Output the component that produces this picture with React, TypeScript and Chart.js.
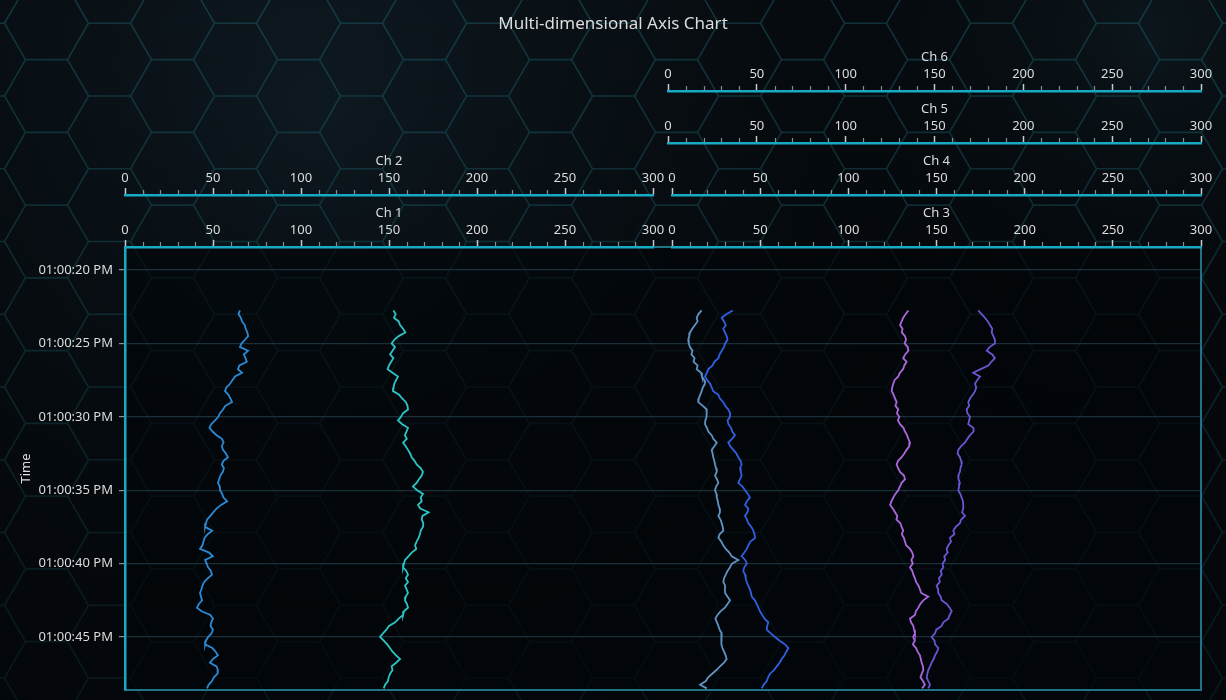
import React, { useEffect, useRef } from 'react';
import { Chart, registerables } from 'chart.js';

Chart.register(...registerables);

// ---------- data ----------
const TITLE = 'Multi-dimensional Axis Chart';
const Y_TITLE = 'Time';
const TIME_START = 22.75; // seconds after 01:00:00 PM
const TIME_STEP = 0.25;
const Y_MIN = 18.43;
const Y_MAX = 48.61;
const Y_TICKS = [20, 25, 30, 35, 40, 45];
const CHANNELS = ['Ch 1', 'Ch 2', 'Ch 3', 'Ch 4', 'Ch 5', 'Ch 6'];
const X_MIN = 0;
const X_MAX = 300;
const X_MAJOR = 50;
const X_MINOR = 10;

const S1 = [
  65.3, 64.5, 65.8, 66.5, 68.0, 68.6, 69.5, 70.0, 68.2, 66.2,
  65.3, 69.9, 67.5, 68.5, 69.2, 65.0, 64.2, 66.5, 62.5, 61.0,
  59.7, 57.6, 56.8, 58.8, 59.9, 60.8, 57.0, 55.7, 54.0, 53.0,
  51.1, 49.0, 48.0, 49.8, 52.0, 55.1, 56.0, 55.0, 55.7, 57.3,
  58.5, 56.0, 55.0, 56.2, 55.6, 54.2, 53.5, 52.8, 53.9, 54.0,
  55.2, 56.0, 58.0, 54.6, 52.0, 50.2, 48.5, 46.6, 46.0, 45.5,
  49.5, 47.0, 45.2, 44.6, 44.0, 42.6, 47.8, 49.9, 45.5, 46.4,
  47.2, 48.8, 49.4, 47.0, 45.0, 44.0, 43.4, 42.6, 43.2, 43.8,
  42.0, 40.9, 43.5, 48.5, 50.0, 49.0, 48.6, 50.0, 49.2, 47.2,
  46.0, 45.5, 49.6, 51.5, 52.8, 50.0, 48.3, 52.0, 52.8, 52.6,
  50.5, 49.4, 47.5, 46.6,
];
const S2 = [
  152.5, 153.8, 152.8, 155.5, 156.3, 158.0, 159.3, 155.5, 153.0, 151.5,
  153.4, 152.0, 150.6, 152.5, 151.2, 150.0, 149.2, 152.0, 155.1, 154.0,
  153.0, 152.6, 152.3, 155.8, 157.5, 159.6, 160.5, 160.8, 158.0, 156.8,
  155.1, 157.5, 160.8, 160.0, 159.0, 160.1, 158.0, 159.5, 160.8, 162.0,
  162.9, 164.5, 165.7, 168.0, 169.3, 168.6, 167.0, 165.7, 163.6, 166.0,
  169.3, 168.0, 168.6, 166.5, 167.8, 172.5, 169.0, 168.6, 169.5, 169.3,
  168.0, 167.6, 166.8, 165.7, 164.8, 165.5, 162.9, 161.0, 159.1, 158.5,
  158.0, 159.8, 160.8, 159.5, 160.8, 159.1, 160.0, 160.8, 159.5, 159.1,
  160.2, 160.8, 158.5, 158.0, 155.5, 153.5, 150.0, 148.5, 146.6, 144.9,
  147.0, 149.0, 150.5, 152.0, 154.0, 156.3, 154.0, 151.5, 152.0, 150.6,
  149.8, 149.4, 147.8, 147.0,
];
const S3 = [
  16.8, 15.0, 14.0, 14.5, 13.0, 11.5, 10.2, 9.8, 9.2, 9.5,
  10.2, 11.6, 11.0, 12.8, 12.2, 14.5, 14.0, 16.5, 17.0, 18.3,
  18.7, 17.5, 16.8, 16.0, 15.2, 14.9, 17.5, 19.7, 19.5, 19.7,
  18.9, 18.7, 19.8, 20.6, 22.5, 23.4, 25.4, 24.0, 22.5, 23.0,
  23.4, 24.0, 24.4, 25.0, 25.4, 24.4, 25.5, 26.3, 25.0, 24.4,
  25.2, 25.4, 26.0, 26.3, 27.0, 27.2, 26.3, 27.5, 28.2, 28.8,
  29.1, 27.0, 26.3, 28.0, 29.0, 30.5, 32.5, 33.9, 37.6, 34.0,
  32.9, 31.5, 30.5, 29.5, 29.1, 30.1, 30.0, 30.1, 31.5, 32.9,
  31.5, 30.0, 27.5, 25.8, 24.6, 25.5, 26.3, 27.0, 28.2, 28.0,
  28.2, 27.8, 28.6, 29.5, 30.4, 31.0, 29.5, 27.2, 25.2, 22.8,
  20.5, 19.2, 15.9, 19.7,
];
const S4 = [
  34.5, 31.0, 28.2, 29.5, 30.5, 29.1, 30.0, 31.0, 31.5, 30.1,
  29.5, 28.2, 27.0, 26.3, 24.0, 23.0, 20.6, 19.8, 18.7, 20.0,
  21.6, 22.5, 23.4, 26.3, 27.2, 29.1, 30.2, 31.9, 33.0, 32.9,
  31.5, 32.0, 33.5, 34.2, 35.7, 34.0, 31.9, 33.0, 34.8, 36.5,
  37.6, 38.9, 39.5, 38.6, 39.0, 39.5, 38.6, 37.6, 40.0, 41.4,
  43.0, 44.2, 42.5, 41.4, 43.3, 42.8, 41.4, 42.5, 43.3, 45.0,
  46.1, 46.8, 47.1, 44.5, 43.3, 42.4, 41.0, 39.5, 41.5, 42.4,
  41.0, 40.4, 41.4, 41.8, 42.4, 43.2, 44.2, 44.8, 45.2, 47.0,
  48.0, 49.0, 49.9, 51.2, 52.5, 54.6, 54.0, 53.7, 56.0, 58.4,
  61.0, 64.1, 66.0, 64.8, 63.8, 62.2, 61.0, 59.4, 57.8, 55.6,
  54.5, 53.7, 52.0, 50.9,
];
const S5 = [
  135.3, 133.8, 132.4, 131.5, 130.6, 132.0, 131.6, 133.4, 134.0, 133.2,
  135.0, 135.3, 133.5, 132.4, 134.3, 133.0, 132.4, 130.5, 129.6, 127.5,
  126.8, 126.2, 125.9, 127.0, 127.8, 128.7, 128.0, 129.6, 128.8, 130.2,
  129.4, 130.6, 132.5, 133.4, 134.5, 135.3, 136.2, 135.8, 134.3, 133.0,
  131.5, 129.5, 128.7, 129.5, 130.6, 132.8, 133.4, 131.5, 130.5, 129.6,
  128.0, 126.8, 125.8, 125.0, 126.5, 127.8, 129.0, 128.6, 130.8, 131.5,
  132.4, 131.6, 132.8, 133.4, 134.0, 136.2, 137.5, 138.1, 137.0, 137.8,
  136.2, 137.5, 138.1, 139.0, 139.6, 141.0, 141.8, 142.5, 146.5, 143.7,
  142.0, 140.9, 139.5, 139.0, 136.2, 136.8, 138.1, 138.5, 139.0, 138.0,
  138.9, 137.8, 139.6, 140.5, 141.8, 142.3, 142.8, 143.5, 143.7, 142.8,
  142.1, 143.5, 144.6, 143.0,
];
const S6 = [
  174.6, 176.5, 178.4, 180.0, 181.2, 182.5, 182.2, 183.1, 184.0, 184.0,
  181.0, 179.4, 182.5, 184.0, 182.0, 180.3, 176.0, 171.8, 175.6, 174.0,
  172.8, 173.5, 172.8, 171.5, 170.0, 169.0, 169.5, 168.1, 168.5, 170.0,
  169.5, 169.0, 171.8, 172.0, 170.0, 168.5, 167.2, 165.0, 163.4, 163.0,
  164.3, 165.0, 165.3, 164.6, 164.3, 163.4, 163.5, 164.3, 163.8, 163.4,
  164.5, 165.3, 166.0, 166.2, 166.2, 165.5, 167.2, 165.0, 164.3, 162.0,
  160.6, 161.2, 158.7, 159.3, 157.8, 156.8, 157.4, 155.5, 156.0, 154.5,
  155.0, 153.5, 154.1, 152.5, 153.0, 151.2, 152.0, 152.1, 153.5, 154.0,
  156.9, 158.5, 159.7, 158.5, 157.8, 155.0, 154.0, 151.0, 150.3, 148.4,
  150.0, 150.3, 152.1, 151.5, 150.3, 149.5, 148.4, 147.5, 146.5, 146.0,
  145.6, 146.5, 147.5, 146.5,
];
const SERIES = [S1, S2, S3, S4, S5, S6];
const SERIES_COLORS = ['#2b8ad6', '#2cc4c4', '#5f93c2', '#3060e0', '#ad66de', '#6a56d2'];

// ---------- styles ----------
const FONT = "'Noto Sans', 'Open Sans', sans-serif";
const TEXT = '#dcdcdc';
const AXIS = '#18aac4';
const ROW_H = 52;

const TIMES = S1.map((_, i) => TIME_START + i * TIME_STEP);

function chAxis(title: string, stack: string, stackWeight: number, weight: number) {
  return {
    type: 'linear',
    axis: 'x',
    position: 'top',
    min: X_MIN,
    max: X_MAX,
    stack,
    stackWeight,
    weight,
    afterFit: (s: any) => { s.height = ROW_H; },
    ticks: {
      stepSize: X_MAJOR,
      color: TEXT,
      font: { family: FONT, size: 13 },
      padding: 2,
      maxRotation: 0,
      autoSkip: false,
    },
    grid: {
      drawOnChartArea: false,
      drawTicks: true,
      tickLength: 7,
      tickColor: 'rgba(205,212,216,0.95)',
      tickWidth: 1.5,
      color: 'rgba(0,0,0,0)',
    },
    border: { display: true, color: AXIS, width: 2.5 },
    title: {
      display: true,
      text: title,
      color: TEXT,
      font: { family: FONT, size: 13 },
      padding: { top: 10.5, bottom: 0 },
    },
  };
}

function spacer(stack: string, stackWeight: number, weight: number) {
  return {
    type: 'linear',
    axis: 'x',
    position: 'top',
    min: 0,
    max: 1,
    stack,
    stackWeight,
    weight,
    afterFit: (s: any) => { s.height = ROW_H; },
    ticks: { display: false },
    grid: { display: false, drawTicks: false },
    border: { display: false },
    title: { display: false },
  };
}

const bgPlugin = {
  id: 'hexBackground',
  beforeDraw(chart: any) {
    const { ctx, width, height, chartArea } = chart;
    ctx.save();
    ctx.fillStyle = '#05080c';
    ctx.fillRect(0, 0, width, height);
    const g = ctx.createRadialGradient(320, 110, 0, 320, 110, 900);
    g.addColorStop(0, 'rgba(22,42,52,0.55)');
    g.addColorStop(1, 'rgba(0,0,0,0)');
    ctx.fillStyle = g;
    ctx.fillRect(0, 0, width, height);
    const g2 = ctx.createRadialGradient(1150, 40, 0, 1150, 40, 450);
    g2.addColorStop(0, 'rgba(20,40,48,0.45)');
    g2.addColorStop(1, 'rgba(0,0,0,0)');
    ctx.fillStyle = g2;
    ctx.fillRect(0, 0, width, height);

    // hexagon pattern (flat-topped)
    const s = 42;
    const h = Math.sqrt(3) * s;
    ctx.beginPath();
    for (let c = -6; c < 22; c++) {
      const cx = 298.5 + c * 1.5 * s;
      const off = ((c % 2) + 2) % 2 === 0 ? 0 : h / 2;
      for (let r = -3; r < 12; r++) {
        const cy = 96 + off + r * h;
        for (let k = 0; k <= 6; k++) {
          const a = (Math.PI / 3) * k;
          const px = cx + s * Math.cos(a);
          const py = cy + s * Math.sin(a);
          if (k === 0) ctx.moveTo(px, py);
          else ctx.lineTo(px, py);
        }
      }
    }
    ctx.strokeStyle = 'rgba(32,108,118,0.42)';
    ctx.lineWidth = 1.6;
    ctx.stroke();

    // fade toward bottom
    const lg = ctx.createLinearGradient(0, 0, 0, height);
    lg.addColorStop(0, 'rgba(3,6,9,0)');
    lg.addColorStop(0.45, 'rgba(3,6,9,0.25)');
    lg.addColorStop(1, 'rgba(3,6,9,0.6)');
    ctx.fillStyle = lg;
    ctx.fillRect(0, 0, width, height);

    // plot area
    const { left, top, right, bottom } = chartArea;
    ctx.fillStyle = 'rgba(2,5,8,0.6)';
    ctx.fillRect(left, top, right - left, bottom - top);
    ctx.strokeStyle = 'rgba(34,120,140,0.95)';
    ctx.lineWidth = 2;
    ctx.strokeRect(left, top, right - left, bottom - top);
    ctx.restore();
  },
  afterDraw(chart: any) {
    const { ctx } = chart;
    ctx.save();
    ctx.strokeStyle = 'rgba(150,165,172,0.85)';
    ctx.lineWidth = 1.2;
    ctx.beginPath();
    for (let n = 1; n <= CHANNELS.length; n++) {
      const sc = chart.scales['ch' + n];
      if (!sc) continue;
      for (let v = X_MIN + X_MINOR; v < X_MAX; v += X_MINOR) {
        if (v % X_MAJOR === 0) continue;
        const x = Math.round(sc.getPixelForValue(v)) + 0.5;
        ctx.moveTo(x, sc.bottom - 5);
        ctx.lineTo(x, sc.bottom - 1);
      }
    }
    ctx.stroke();
    ctx.restore();
  },
};

function pad2(n: number) {
  return String(n).padStart(2, '0');
}

export default function App() {
  const ref = useRef<HTMLCanvasElement>(null);

  useEffect(() => {
    document.body.style.margin = '0';
    document.body.style.background = '#05080c';
    const canvas = ref.current;
    if (!canvas) return;

    const datasets = SERIES.map((vals, i) => ({
      label: CHANNELS[i],
      data: vals.map((v, j) => ({ x: v, y: TIMES[j] })),
      xAxisID: 'ch' + (i + 1),
      yAxisID: 'y',
      borderColor: SERIES_COLORS[i],
      backgroundColor: SERIES_COLORS[i],
      borderWidth: 1.8,
      pointRadius: 0,
      tension: 0,
      fill: false,
    }));

    const chart = new Chart(canvas, {
      type: 'line',
      data: { datasets },
      plugins: [bgPlugin],
      options: {
        responsive: false,
        animation: false,
        indexAxis: 'y',
        layout: { padding: { left: 0, right: 0, top: 0, bottom: 10 } },
        plugins: {
          legend: { display: false },
          tooltip: { enabled: false },
          title: {
            display: true,
            text: TITLE,
            color: TEXT,
            font: { family: FONT, size: 17, weight: 'normal' },
            padding: { top: 14, bottom: 4.6 },
          },
        },
        scales: {
          y: {
            type: 'linear',
            position: 'left',
            reverse: true,
            min: Y_MIN,
            max: Y_MAX,
            afterFit: (s: any) => {
              s.width = 125;
              s.paddingTop = 0;
              s.paddingBottom = 0;
            },
            afterBuildTicks: (s: any) => { s.ticks = Y_TICKS.map((v) => ({ value: v })); },
            ticks: {
              color: TEXT,
              font: { family: FONT, size: 13 },
              padding: 6,
              autoSkip: false,
              callback: (v: any) => `01:00:${pad2(Number(v))} PM`,
            },
            grid: {
              color: 'rgba(45,82,94,0.55)',
              tickColor: 'rgba(150,160,165,0.9)',
              tickLength: 6,
              lineWidth: 1.2,
            },
            border: { display: true, color: AXIS, width: 2.5 },
            title: {
              display: true,
              text: Y_TITLE,
              color: TEXT,
              font: { family: FONT, size: 13 },
              padding: { top: 18, bottom: 0 },
            },
          },
          rightPad: {
            type: 'linear',
            axis: 'y',
            position: 'right',
            min: 0,
            max: 1,
            afterFit: (s: any) => {
              s.width = 25;
              s.paddingTop = 0;
              s.paddingBottom = 0;
            },
            ticks: { display: false },
            grid: { display: false, drawTicks: false },
            border: { display: false },
            title: { display: false },
          },
          ch1: chAxis(CHANNELS[0], 'r1', 528, 30),
          gap1: spacer('r1', 19, 29),
          ch3: chAxis(CHANNELS[2], 'r1', 529, 28),
          ch2: chAxis(CHANNELS[1], 'r2', 528, 40),
          gap2: spacer('r2', 19, 39),
          ch4: chAxis(CHANNELS[3], 'r2', 529, 38),
          pad5: spacer('r5', 543, 50),
          ch5: chAxis(CHANNELS[4], 'r5', 533, 49),
          pad6: spacer('r6', 543, 60),
          ch6: chAxis(CHANNELS[5], 'r6', 533, 59),
        } as any,
      } as any,
    });
    return () => chart.destroy();
  }, []);

  return (
    <div style={{ width: 1226, height: 700, position: 'relative' }}>
      <canvas ref={ref} width={1226} height={700} style={{ display: 'block' }} />
    </div>
  );
}
